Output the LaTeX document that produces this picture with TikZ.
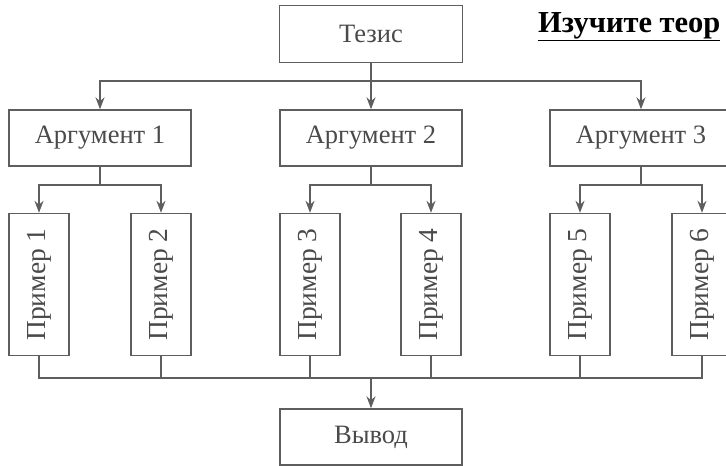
\documentclass[tikz,border=0pt]{standalone}
\usepackage{fontspec}
\setmainfont{Liberation Serif}
\usetikzlibrary{arrows.meta}
\definecolor{ln}{HTML}{5E5E5E}
\definecolor{tx}{HTML}{4A4A4A}
\begin{document}
\begin{tikzpicture}[x=1pt,y=-1pt,
  box/.style={draw=ln,line width=1.4pt,fill=white,inner sep=0pt,minimum width=182pt,minimum height=56pt,text=tx,font=\fontsize{26.5}{30}\selectfont},
  vbox/.style={draw=ln,line width=1.4pt,fill=white,inner sep=0pt,minimum width=142pt,minimum height=60pt,rotate=90,text=tx,font=\fontsize{27.5}{30}\selectfont},
  con/.style={draw=ln,line width=1.4pt},
  arr/.style={con,-{Stealth[length=12pt,width=9pt]}}]
\useasboundingbox (0,0) rectangle (726,466);
\node[box,minimum width=183pt,minimum height=57pt] (tezis) at (371,34) {Тезис};
\node[anchor=base west,inner sep=0pt,font=\bfseries\fontsize{30.5}{34}\selectfont] (head) at (538,32) {\underline{Изучите теор}};
\node[box] (a1) at (100,138) {Аргумент 1};
\node[box] (a2) at (371,138) {Аргумент 2};
\node[box] (a3) at (641,138) {Аргумент 3};
\node[vbox] (p1) at (39,284.5) {Пример 1};
\node[vbox] (p2) at (161,284.5) {Пример 2};
\node[vbox] (p3) at (310,284.5) {Пример 3};
\node[vbox] (p4) at (431,284.5) {Пример 4};
\node[vbox] (p5) at (580,284.5) {Пример 5};
\node[vbox] (p6) at (702,284.5) {Пример 6};
\node[box] (vyv) at (371,437) {Вывод};
\coordinate (b0) at (371,81);
\coordinate (c1) at (100,185);
\coordinate (c2) at (371,185);
\coordinate (c3) at (641,185);
\coordinate (bus) at (371,378);
\draw[con] (tezis.south) -- (b0);
\draw[arr] (b0) -| (a1.north);
\draw[arr] (b0) -- (a2.north);
\draw[arr] (b0) -| (a3.north);
\draw[con] (a1.south) -- (c1);
\draw[con] (a2.south) -- (c2);
\draw[con] (a3.south) -- (c3);
\draw[arr] (c1) -| (p1.east);
\draw[arr] (c1) -| (p2.east);
\draw[arr] (c2) -| (p3.east);
\draw[arr] (c2) -| (p4.east);
\draw[arr] (c3) -| (p5.east);
\draw[arr] (c3) -| (p6.east);
\draw[con] (p1.west) |- (bus);
\draw[con] (p6.west) |- (bus);
\draw[con] (p2.west) -- (p2.west |- bus);
\draw[con] (p3.west) -- (p3.west |- bus);
\draw[con] (p4.west) -- (p4.west |- bus);
\draw[con] (p5.west) -- (p5.west |- bus);
\draw[arr] (bus) -- (vyv.north);
\end{tikzpicture}
\end{document}
